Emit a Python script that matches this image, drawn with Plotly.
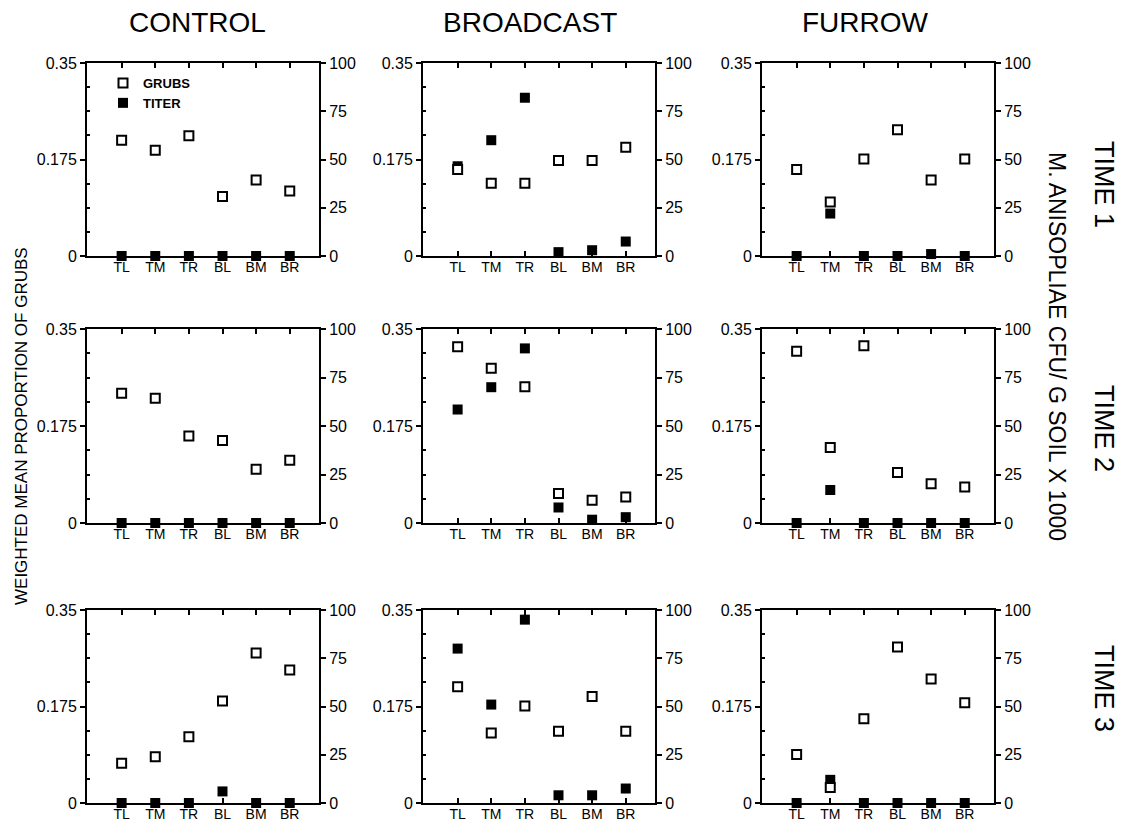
import plotly.graph_objects as go

cats = ["TL", "TM", "TR", "BL", "BM", "BR"]
treatments = ["CONTROL", "BROADCAST", "FURROW"]
times = ["TIME 1", "TIME 2", "TIME 3"]

# weighted mean proportion of grubs (left axis)
grubs_control_t1 = [0.210, 0.192, 0.218, 0.108, 0.138, 0.118]
grubs_broadcast_t1 = [0.157, 0.132, 0.132, 0.173, 0.173, 0.197]
grubs_furrow_t1 = [0.157, 0.098, 0.176, 0.229, 0.138, 0.176]
grubs_control_t2 = [0.234, 0.225, 0.157, 0.149, 0.097, 0.113]
grubs_broadcast_t2 = [0.318, 0.279, 0.246, 0.053, 0.041, 0.047]
grubs_furrow_t2 = [0.310, 0.136, 0.320, 0.091, 0.071, 0.065]
grubs_control_t3 = [0.072, 0.084, 0.120, 0.185, 0.272, 0.241]
grubs_broadcast_t3 = [0.211, 0.127, 0.176, 0.130, 0.193, 0.130]
grubs_furrow_t3 = [0.088, 0.028, 0.153, 0.283, 0.225, 0.182]

# M. anisopliae titer, CFU/g soil x 1000 (right axis)
titer_control_t1 = [0, 0, 0, 0, 0, 0]
titer_broadcast_t1 = [46.5, 60, 82, 2, 3, 7.5]
titer_furrow_t1 = [0, 22, 0, 0, 1, 0]
titer_control_t2 = [0, 0, 0, 0, 0, 0]
titer_broadcast_t2 = [58.5, 70, 90, 8, 1.7, 3]
titer_furrow_t2 = [0, 17, 0, 0, 0, 0]
titer_control_t3 = [0, 0, 0, 6, 0, 0]
titer_broadcast_t3 = [80, 51, 95, 4, 4, 7.5]
titer_furrow_t3 = [0, 12, 0, 0, 0, 0]

grubs = [
    [grubs_control_t1, grubs_broadcast_t1, grubs_furrow_t1],
    [grubs_control_t2, grubs_broadcast_t2, grubs_furrow_t2],
    [grubs_control_t3, grubs_broadcast_t3, grubs_furrow_t3],
]
titer = [
    [titer_control_t1, titer_broadcast_t1, titer_furrow_t1],
    [titer_control_t2, titer_broadcast_t2, titer_furrow_t2],
    [titer_control_t3, titer_broadcast_t3, titer_furrow_t3],
]

# page is 1126x832; the browser body has an 8px margin
OFF = 8
FW, FH = 1126 - 2 * OFF, 832 - 2 * OFF


def px_x(p):
    return (p - OFF) / FW


def px_y(p):
    return 1 - (p - OFF) / FH


col_px = [(87, 319), (423, 655), (762, 994)]
row_px = [(63, 256), (329, 523), (610, 803)]
FONT = "Liberation Sans, Arial, Helvetica, sans-serif"
xpos = list(range(1, 7))

fig = go.Figure()
layout = {}
for r in range(3):
    for c in range(3):
        k = r * 3 + c
        xid = k + 1
        yb = 2 * k + 1  # titer axis (base, right side)
        yo = 2 * k + 2  # grubs axis (overlay, left side)
        xname = "x" if xid == 1 else f"x{xid}"
        ybname = "y" if yb == 1 else f"y{yb}"
        yoname = f"y{yo}"
        first = (k == 0)
        fig.add_trace(go.Scatter(
            x=xpos, y=titer[r][c], xaxis=xname, yaxis=ybname, mode="markers",
            name="TITER", legendrank=2, showlegend=first, cliponaxis=False,
            marker=dict(symbol="square", size=10, color="black",
                        line=dict(width=0)),
            hovertemplate="%{text}: %{y}<extra>titer</extra>", text=cats))
        fig.add_trace(go.Scatter(
            x=xpos, y=grubs[r][c], xaxis=xname, yaxis=yoname, mode="markers",
            name="GRUBS", legendrank=1, showlegend=first, cliponaxis=False,
            marker=dict(symbol="square", size=9, color="white",
                        line=dict(width=2, color="black")),
            hovertemplate="%{text}: %{y}<extra>grubs</extra>", text=cats))

        x0, x1 = col_px[c]
        t, b = row_px[r]
        xdom = [px_x(x0), px_x(x1)]
        ydom = [px_y(b), px_y(t)]
        xkey = "xaxis" if xid == 1 else f"xaxis{xid}"
        layout[xkey] = dict(
            domain=xdom, anchor=ybname, range=[-0.03, 6.87],
            tickmode="array", tickvals=xpos, ticktext=cats,
            ticks="inside", ticklen=5, tickwidth=1.5, tickcolor="black",
            ticklabelstandoff=-3,
            showline=True, linecolor="black", linewidth=2, mirror="ticks",
            showgrid=False, zeroline=False, fixedrange=True,
            tickfont=dict(family=FONT, size=14, color="black"),
        )
        layout[f"yaxis{yb}" if yb != 1 else "yaxis"] = dict(
            domain=ydom, anchor=xname, side="right", range=[0, 100],
            tickmode="array", tickvals=[0, 25, 50, 75, 100],
            ticktext=["0", "25", "50", "75", "100"],
            ticks="outside", ticklen=5, tickwidth=1.5, tickcolor="black",
            showline=True, linecolor="black", linewidth=2,
            showgrid=False, zeroline=False, fixedrange=True,
            tickfont=dict(family=FONT, size=16, color="black"),
        )
        layout[f"yaxis{yo}"] = dict(
            domain=ydom, anchor=xname, side="left", overlaying=ybname,
            range=[0, 0.35], tickmode="array", tickvals=[0, 0.175, 0.35],
            ticktext=["0", "0.175", "0.35"],
            ticks="outside", ticklen=5, tickwidth=1.5, tickcolor="black",
            minor=dict(tickmode="array",
                       tickvals=[0.04375, 0.0875, 0.13125, 0.21875, 0.2625, 0.30625],
                       ticks="inside", ticklen=3, tickwidth=1.5, tickcolor="black"),
            showline=True, linecolor="black", linewidth=2,
            showgrid=False, zeroline=False, fixedrange=True,
            tickfont=dict(family=FONT, size=16, color="black"),
        )

annotations = []
col_centers = [197, 530, 865]
for name, cx in zip(treatments, col_centers):
    annotations.append(dict(text=name, x=px_x(cx), y=px_y(22), xref="paper", yref="paper",
                            showarrow=False, xanchor="center", yanchor="middle",
                            font=dict(family=FONT, size=28, color="black")))
time_centers = [184, 428, 688]
for name, cy in zip(times, time_centers):
    annotations.append(dict(text=name, x=px_x(1104), y=px_y(cy), xref="paper", yref="paper",
                            showarrow=False, textangle=90, xanchor="center", yanchor="middle",
                            font=dict(family=FONT, size=27, color="black")))
annotations.append(dict(text="WEIGHTED MEAN PROPORTION OF GRUBS", x=px_x(22), y=px_y(426),
                        xref="paper", yref="paper", showarrow=False, textangle=-90,
                        xanchor="center", yanchor="middle",
                        font=dict(family=FONT, size=17, color="black")))
annotations.append(dict(text="M. ANISOPLIAE CFU/ G SOIL X 1000", x=px_x(1057), y=px_y(346),
                        xref="paper", yref="paper", showarrow=False, textangle=90,
                        xanchor="center", yanchor="middle",
                        font=dict(family=FONT, size=23, color="black")))

fig.update_layout(
    width=FW, height=FH, margin=dict(l=0, r=0, t=0, b=0, pad=0, autoexpand=False),
    paper_bgcolor="white", plot_bgcolor="white",
    font=dict(family=FONT, color="black"),
    showlegend=True,
    legend=dict(x=px_x(103), y=px_y(68), xanchor="left", yanchor="top",
                bgcolor="rgba(0,0,0,0)", borderwidth=0, tracegroupgap=0,
                font=dict(family=FONT, size=13, color="black", weight="bold"),
                itemclick=False, itemdoubleclick=False),
    annotations=annotations,
    **layout,
)

fig.write_html("out.html")
